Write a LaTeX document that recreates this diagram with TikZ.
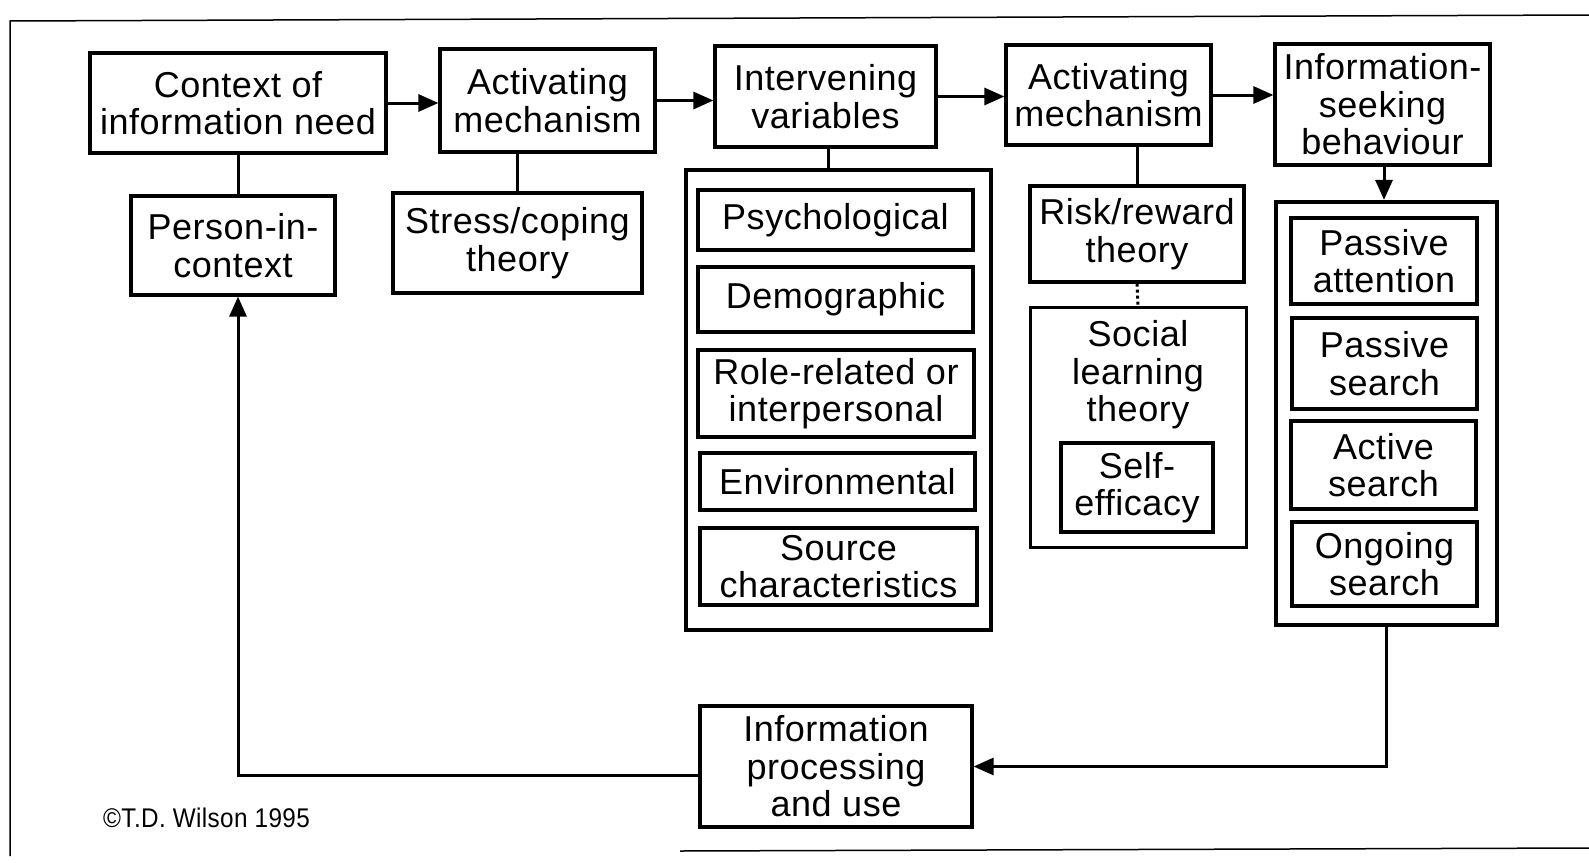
\documentclass[tikz,border=0pt]{standalone}
\usepackage{fontspec}
\setmainfont{Liberation Sans}[LetterSpace=1.5]
\usetikzlibrary{arrows.meta,calc}
\begin{document}
\begin{tikzpicture}[x=1pt,y=-1pt,
  every node/.style={font=\fontsize{36}{37.5}\selectfont, align=center, inner sep=0pt},
  box/.style={draw, line width=3.2pt},
  groupbox/.style={draw, line width=4.2pt},
  thinbox/.style={draw, line width=3pt},
  conn/.style={line width=3pt},
  arr/.style={conn, -{Triangle[length=20pt,width=17pt]}},
  frameline/.style={line width=1.5pt}]
\useasboundingbox (0,0) rectangle (1589,862);
% frame
\coordinate (fTL) at (10,21);
\coordinate (fTR) at (1589,15);
\coordinate (fBL) at (10,856);
\coordinate (fB1) at (680,851);
\coordinate (fBR) at (1589,848);
\draw[frameline] (fTR) -- (fTL) -- (fBL);
\draw[frameline] (fB1) -- (fBR);
% top row
\node[box, minimum width=296, minimum height=100] (ctx) at (238,103) {Context of\\information need};
\node[box, minimum width=215, minimum height=103] (act1) at (547.5,100.5) {Activating\\mechanism};
\node[box, minimum width=221, minimum height=101] (intv) at (825.5,96.5) {Intervening\\variables};
\node[box, minimum width=205, minimum height=100] (act2) at (1108.5,95) {Activating\\mechanism};
\node[box, minimum width=215, minimum height=121] (isb) at (1382.5,104.5) {Information-\\seeking\\behaviour};
% second row
\node[box, minimum width=204, minimum height=99] (pic) at (233,245.5) {Person-in-\\context};
\node[box, minimum width=249, minimum height=100] (stress) at (517.5,243) {Stress/coping\\theory};
% intervening group
\node[groupbox, minimum width=305, minimum height=460] (ivgroup) at (838.5,400) {};
\node[box, minimum width=275, minimum height=60] (psych) at (835.5,220) {Psychological};
\node[box, minimum width=275, minimum height=65] (demo) at (835.5,299.5) {Demographic};
\node[box, minimum width=276, minimum height=87] (role) at (836,393.5) {Role-related or\\interpersonal};
\node[box, minimum width=275, minimum height=57] (env) at (837.5,481.5) {Environmental};
\node[box, minimum width=277, minimum height=77] (src) at (838.5,566.5) {Source\\characteristics};
% risk / social learning
\node[box, minimum width=214, minimum height=96] (risk) at (1137,234) {Risk/reward\\theory};
\node[thinbox, minimum width=216, minimum height=240] (social) at (1138,427) {};
\node (soclbl) at (1138,375) {Social\\learning\\theory};
\node[box, minimum width=152, minimum height=89] (self) at (1137,487.5) {Self-\\efficacy};
% info seeking group
\node[groupbox, minimum width=221, minimum height=423] (isgroup) at (1386.5,413.5) {};
\node[box, minimum width=186, minimum height=86] (pa) at (1384,261) {Passive\\attention};
\node[box, minimum width=185, minimum height=91] (ps) at (1384.5,363.5) {Passive\\search};
\node[box, minimum width=185, minimum height=88] (as) at (1383.5,465) {Active\\search};
\node[box, minimum width=185, minimum height=84] (og) at (1384.5,564) {Ongoing\\search};
% bottom
\node[box, minimum width=272, minimum height=121] (ipu) at (836,766.5) {Information\\processing\\and use};
\node[anchor=west, font=\fontsize{27}{29}\selectfont] (copy) at (103,818) {\scalebox{0.9}[1]{©T.D. Wilson 1995}};
% connectors
\draw[arr] (ctx.east) -- (ctx.east -| act1.west);
\draw[arr] (act1.east) -- (act1.east -| intv.west);
\draw[arr] (intv.east) -- (intv.east -| act2.west);
\draw[arr] (act2.east) -- (act2.east -| isb.west);
\draw[conn] (ctx.south) -- (ctx.south |- pic.north);
\draw[conn] (stress.north) -- (stress.north |- act1.south);
\draw[conn] ([xshift=2.5pt]intv.south) -- ([xshift=2.5pt]intv.south |- ivgroup.north);
\draw[conn] (risk.north) -- (risk.north |- act2.south);
\draw[conn, dash pattern=on 3pt off 3pt] (risk.south) -- (social.north);
\draw[arr] ([xshift=1.5pt]isb.south) -- ([xshift=1.5pt]isb.south |- isgroup.north);
\draw[arr] (isgroup.south) |- (ipu.east);
\coordinate (ipuw) at ($(ipu.west)+(0,8.5)$);
\draw[arr] (ipuw) -| ([xshift=5pt]pic.south);
\end{tikzpicture}
\end{document}
